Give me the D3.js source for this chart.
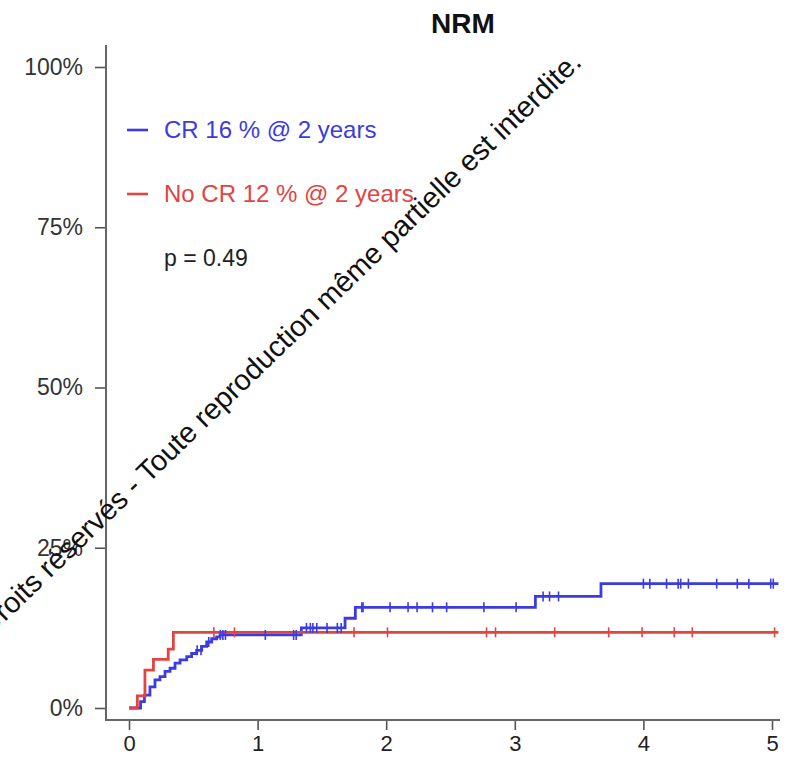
<!DOCTYPE html>
<html>
<head>
<meta charset="utf-8">
<script src="https://cdn.jsdelivr.net/npm/d3@7/dist/d3.min.js"></script>
<style>
  html, body { margin: 0; padding: 0; background: #fff; }
  svg { display: block; font-family: "Liberation Sans", Arial, Helvetica, sans-serif; }
</style>
</head>
<body>
<svg id="chart" width="807" height="772"></svg>
<script>
// ---- data ----
const title = "NRM";
const xTicks = [0, 1, 2, 3, 4, 5];
const yTicks = [0, 0.25, 0.5, 0.75, 1];

// CR group (blue): step times (years) and cumulative incidence (%)
const crTimes  = [0, 0.09, 0.12, 0.163, 0.202, 0.241, 0.28, 0.319, 0.358, 0.397, 0.449, 0.487, 0.526, 0.565, 0.604, 0.643, 0.682, 0.708, 1.34, 1.68, 1.76, 3.16, 3.67];
const crValues = [0, 1.0, 2.0, 3.3, 4.4, 4.9, 5.7, 6.2, 7.0, 7.5, 8.0, 8.5, 9.0, 9.6, 10.3, 10.8, 11.1, 11.4, 12.5, 14.0, 15.7, 17.4, 19.4];
const crEnd = 5.05;
const crCensor = [0.53, 0.56, 0.62, 0.71, 0.73, 0.75, 1.06, 1.28, 1.30, 1.38, 1.41, 1.43, 1.46, 1.54, 1.62, 1.65, 1.81, 1.82, 2.03, 2.17, 2.24, 2.36, 2.47, 2.76, 3.01, 3.22, 3.27, 3.34, 4.00, 4.05, 4.18, 4.27, 4.29, 4.35, 4.57, 4.73, 4.82, 4.99, 5.01];

// No CR group (red)
const noCrTimes  = [0, 0.065, 0.124, 0.19, 0.305, 0.345];
const noCrValues = [0, 1.9, 5.9, 7.6, 9.2, 11.8];
const noCrEnd = 5.05;
const noCrCensor = [0.66, 0.82, 1.75, 2.01, 2.78, 2.85, 3.31, 3.73, 3.99, 4.24, 4.38, 5.02];

const legendLabels = ["CR 16 % @ 2 years", "No CR 12 % @ 2 years"];
const pValueLabel = "p = 0.49";
const watermark = "Droits réservés - Toute reproduction même partielle est interdite.";

// ---- drawing ----
const blue = "#3b3be3";
const red = "#e2443f";
const svg = d3.select("#chart");

const x = d3.scaleLinear().domain([0, 5]).range([129, 772]);
const y = d3.scaleLinear().domain([0, 1]).range([708, 67]);

// axes
const yAxis = d3.axisLeft(y).tickValues(yTicks).tickFormat(d3.format(".0%")).tickSize(11).tickPadding(12);
const gy = svg.append("g").attr("transform", "translate(106,0)").call(yAxis);
gy.select(".domain").remove();
gy.selectAll(".tick line").attr("stroke", "#555").attr("stroke-width", 1.6);
gy.selectAll(".tick text").attr("font-size", 23).attr("fill", "#333")
  .attr("font-family", "Liberation Sans, Arial, sans-serif");

const xAxis = d3.axisBottom(x).tickValues(xTicks).tickFormat(d3.format("d")).tickSize(10).tickPadding(5);
const gx = svg.append("g").attr("transform", "translate(0,720)").call(xAxis);
gx.select(".domain").remove();
gx.selectAll(".tick line").attr("stroke", "#555").attr("stroke-width", 1.6);
gx.selectAll(".tick text").attr("font-size", 22).attr("fill", "#222")
  .attr("font-family", "Liberation Sans, Arial, sans-serif");

// axis lines (L shape)
svg.append("line").attr("x1", 106).attr("x2", 106).attr("y1", 45).attr("y2", 721)
  .attr("stroke", "#666").attr("stroke-width", 2);
svg.append("line").attr("x1", 105).attr("x2", 780).attr("y1", 720).attr("y2", 720)
  .attr("stroke", "#666").attr("stroke-width", 2);

// title
svg.append("text").attr("x", 463).attr("y", 33).attr("text-anchor", "middle")
  .attr("font-size", 28).attr("font-weight", "bold").attr("fill", "#111").text(title);

function stepData(times, values, end) {
  const pts = times.map((t, i) => [t, values[i] / 100]);
  pts.push([end, values[values.length - 1] / 100]);
  return pts;
}
function valueAt(times, values, t) {
  let v = 0;
  for (let i = 0; i < times.length; i++) if (times[i] <= t) v = values[i];
  return v / 100;
}
const line = d3.line().x(d => x(d[0])).y(d => y(d[1])).curve(d3.curveStepAfter);

const groups = [
  { times: crTimes, values: crValues, end: crEnd, censor: crCensor, color: blue },
  { times: noCrTimes, values: noCrValues, end: noCrEnd, censor: noCrCensor, color: red }
];

groups.forEach(g => {
  svg.append("path").datum(stepData(g.times, g.values, g.end))
    .attr("d", line).attr("fill", "none").attr("stroke", g.color).attr("stroke-width", 2.8);
});
groups.forEach(g => {
  svg.append("g").selectAll("line").data(g.censor).join("line")
    .attr("x1", d => x(d)).attr("x2", d => x(d))
    .attr("y1", d => y(valueAt(g.times, g.values, d)) - 5)
    .attr("y2", d => y(valueAt(g.times, g.values, d)) + 5)
    .attr("stroke", g.color).attr("stroke-width", 1.6);
});

// legend
const legendY = [130, 194];
legendLabels.forEach((lab, i) => {
  const c = i === 0 ? blue : red;
  svg.append("line").attr("x1", 127).attr("x2", 148).attr("y1", legendY[i]).attr("y2", legendY[i])
    .attr("stroke", c).attr("stroke-width", 2.6);
  svg.append("text").attr("x", 164).attr("y", legendY[i] + 8).attr("font-size", 24)
    .attr("fill", c).text(lab);
});
svg.append("text").attr("x", 164).attr("y", 266).attr("font-size", 23).attr("fill", "#222").text(pValueLabel);

// watermark (runs off the left edge, as in the reference)
svg.append("text").attr("transform", "translate(583,64) rotate(-44)")
  .attr("text-anchor", "end").attr("font-size", 29).attr("fill", "#111").text(watermark);
</script>
</body>
</html>
